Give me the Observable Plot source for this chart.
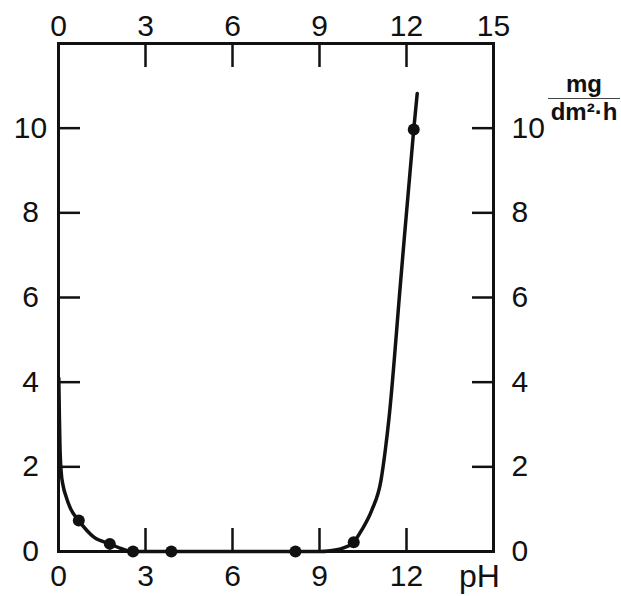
<!DOCTYPE html>
<html><head><meta charset="utf-8">
<script src="https://cdn.jsdelivr.net/npm/d3@7"></script>
<script src="https://cdn.jsdelivr.net/npm/@observablehq/plot@0.6"></script>
<style>
body{margin:0;background:#fff;}
#wrap{position:relative;width:621px;height:596px;}
#unit{position:absolute;left:548px;top:72px;width:72px;text-align:center;font:bold 24px "Liberation Sans",Arial,sans-serif;color:#111;line-height:1;}
#unit .num{padding-bottom:2px;border-bottom:1.5px solid #444;}
#unit .den{padding-top:1px;}
</style></head><body><div id="wrap"><div id="unit"><div class="num">mg</div><div class="den">dm²·h</div></div></div>
<script>
const xTickValues = [3, 6, 9, 12];
const xTopLabels = [0, 3, 6, 9, 12, 15];
const xBottomLabels = [0, 3, 6, 9, 12];
const xUnitLabel = "pH";
const yTickValues = [2, 4, 6, 8, 10];
const yLabels = [0, 2, 4, 6, 8, 10];
const measuredPH = [0.7, 1.77, 2.57, 3.89, 8.17, 10.18, 12.25];
const measuredRate = [0.73, 0.18, 0, 0, 0, 0.22, 9.97];
const curvePH = [0.01, 0.03, 0.05, 0.09, 0.16, 0.26, 0.41, 0.7, 1.22, 1.77, 2.2, 2.57, 3.89, 8.17, 9.0, 9.38, 9.8, 10.18, 10.45, 10.8, 11.12, 11.27, 11.4, 11.8, 12.25, 12.37];
const curveRate = [4.1, 3.2, 2.5, 1.9, 1.55, 1.3, 1.02, 0.73, 0.34, 0.18, 0.06, 0, 0, 0, 0, 0.02, 0.08, 0.22, 0.5, 0.97, 1.68, 2.4, 3.17, 6.4, 9.97, 10.82];

const measured = measuredPH.map((x, i) => ({x, y: measuredRate[i]}));
const curve = curvePH.map((x, i) => ({x, y: curveRate[i]}));
const ink = "#111";
const font = "'Liberation Sans', Arial, sans-serif";
const fs = 30;

const chart = Plot.plot({
  width: 621,
  height: 596,
  marginLeft: 58,
  marginRight: 128,
  marginTop: 43,
  marginBottom: 45,
  x: {domain: [0, 15]},
  y: {domain: [0, 12]},
  style: {background: "#fff", color: ink},
  marks: [
    Plot.axisX(xTickValues, {anchor: "bottom", tickSize: -23, tickFormat: () => "", strokeWidth: 2.5, label: null}),
    Plot.axisX(xTickValues, {anchor: "top", tickSize: -23, tickFormat: () => "", strokeWidth: 2.5, label: null}),
    Plot.axisY(yTickValues, {anchor: "left", tickSize: -22, tickFormat: () => "", strokeWidth: 2.5, label: null}),
    Plot.axisY(yTickValues, {anchor: "right", tickSize: -22, tickFormat: () => "", strokeWidth: 2.5, label: null}),
    Plot.frame({stroke: ink, strokeWidth: 3}),
    Plot.text(xTopLabels, {x: d => d, frameAnchor: "top", dy: -17, lineAnchor: "middle", text: d => String(d), fontSize: fs, fontFamily: font, fill: ink}),
    Plot.text(xBottomLabels, {x: d => d, frameAnchor: "bottom", dy: 25, lineAnchor: "middle", text: d => String(d), fontSize: fs, fontFamily: font, fill: ink}),
    Plot.text([xUnitLabel], {frameAnchor: "bottom-right", dx: -14, dy: 25, lineAnchor: "middle", text: d => d, textAnchor: "middle", fontSize: fs + 2, fontFamily: font, fill: ink}),
    Plot.text(yLabels, {y: d => d, frameAnchor: "left", dx: -28, textAnchor: "middle", lineAnchor: "middle", text: d => String(d), fontSize: fs, fontFamily: font, fill: ink}),
    Plot.text(yLabels, {y: d => d, frameAnchor: "right", dx: 18, textAnchor: "start", lineAnchor: "middle", text: d => String(d), fontSize: fs, fontFamily: font, fill: ink}),
    Plot.line(curve, {x: "x", y: "y", curve: "monotone-x", stroke: ink, strokeWidth: 3.5}),
    Plot.dot(measured, {x: "x", y: "y", r: 6, fill: ink, stroke: "none"})
  ]
});
document.getElementById("wrap").prepend(chart);
</script>
</body></html>
